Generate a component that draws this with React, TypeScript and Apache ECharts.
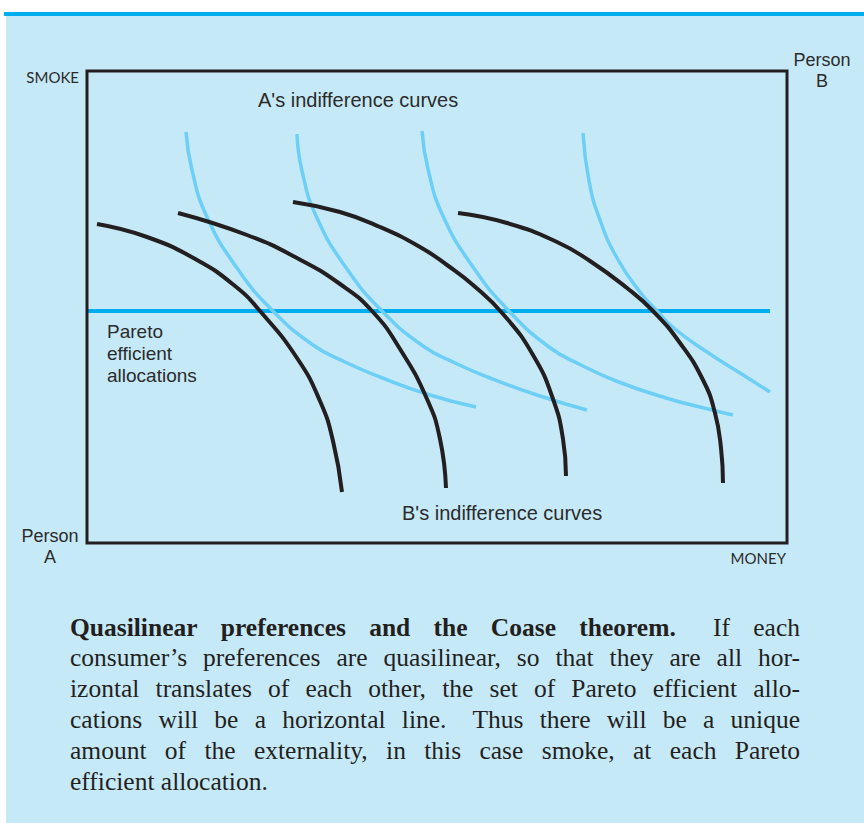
import React, { useEffect, useRef } from "react";
import * as echarts from "echarts";

// Axis extents (money across, smoke up), in the figure's own units
const moneyMax = 700;
const smokeMax = 472;

// A's indifference curves (light blue), [money, smoke]
const curveA1 = [[99, 411], [105, 373], [120, 326], [150, 275], [185, 233], [226, 198], [258, 181], [293, 166], [343, 148], [389, 136]];
const curveA2 = [[210, 409], [215, 372], [230, 325], [260, 274], [295, 232], [336, 197], [368, 180], [403, 165], [453, 147], [500, 133]];
const curveA3 = [[335, 412], [341, 374], [356, 327], [386, 276], [421, 233], [462, 196], [494, 178], [529, 162], [579, 145], [625, 133], [646, 128]];
const curveA4 = [[496, 410], [502, 362], [513, 323], [530, 285], [553, 251], [570, 232], [588, 214], [620, 191], [653, 170], [683, 151]];

// B's indifference curves (black)
const curveB1 = [[10, 319], [60, 306], [110, 283], [148, 257], [173, 232], [210, 185], [233, 142], [246, 102], [255, 51]];
const curveB2 = [[91, 330], [160, 308], [210, 285], [253, 259], [285, 232], [313, 194], [340, 144], [353, 104], [359, 55]];
const curveB3 = [[206, 341], [253, 331], [293, 316], [333, 296], [360, 278], [386, 258], [416, 229], [446, 188], [466, 144], [476, 104], [479, 67]];
const curveB4 = [[371, 330], [420, 320], [470, 301], [503, 282], [540, 255], [566, 232], [593, 200], [616, 163], [628, 130], [634, 95], [636, 60]];

// Pareto efficient allocations (horizontal line)
const paretoLine = [[0, 232], [683, 232]];

// Texts
const labelSmoke = "SMOKE";
const labelMoney = "MONEY";
const labelPersonB = "Person\nB";
const labelPersonA = "Person\nA";
const labelA = "A's indifference curves";
const labelB = "B's indifference curves";
const labelPareto = "Pareto\nefficient\nallocations";

type Word = { t: string; b?: boolean };
const plain = (s: string): Word[] => s.split(" ").map((t) => ({ t }));
const captionLines: { words: Word[]; justify: boolean }[] = [
  {
    words: [
      { t: "Quasilinear", b: true }, { t: "preferences", b: true }, { t: "and", b: true },
      { t: "the", b: true }, { t: "Coase", b: true }, { t: "theorem.", b: true },
      { t: "If" }, { t: "each" },
    ],
    justify: true,
  },
  { words: plain("consumer’s preferences are quasilinear, so that they are all hor-"), justify: true },
  { words: plain("izontal translates of each other, the set of Pareto efficient allo-"), justify: true },
  { words: plain("cations will be a horizontal line. Thus there will be a unique"), justify: true },
  { words: plain("amount of the externality, in this case smoke, at each Pareto"), justify: true },
  { words: plain("efficient allocation."), justify: false },
];

const BG = "#c6e9f8";
const BLUE_CURVE = "#6dcff6";
const PARETO = "#00aeef";
const INK = "#231f20";
const LABEL_INK = "#2b2b2b";
const SANS = "'Liberation Sans', Arial, sans-serif";
const SANS_SMALL = "Lato, 'Open Sans', sans-serif";
const SERIF = "'Liberation Serif', 'DejaVu Serif', serif";
const CAP_FS = 25.5;

function buildCaption(): any[] {
  const canvas = document.createElement("canvas");
  const ctx = canvas.getContext("2d")!;
  const measure = (t: string, b?: boolean) => {
    ctx.font = `${b ? "bold " : ""}${CAP_FS}px ${SERIF}`;
    return ctx.measureText(t).width;
  };
  const left = 70;
  const right = 800;
  const top = 627;
  const lineStep = 30.8;
  const out: any[] = [];
  captionLines.forEach((line, li) => {
    const widths = line.words.map((w) => measure(w.t, w.b));
    const sum = widths.reduce((a, b) => a + b, 0);
    // sentence-ending gaps get a little more room, as TeX does
    const weights = line.words.slice(0, -1).map((w) => (/[.]$/.test(w.t) ? 1.6 : 1));
    const wsum = weights.reduce((a, b) => a + b, 0);
    const unit = line.justify && wsum > 0 ? (right - left - sum) / wsum : measure(" ");
    let x = left;
    line.words.forEach((w, i) => {
      out.push({
        type: "text",
        x,
        y: top + li * lineStep,
        silent: true,
        style: {
          text: w.t,
          fontFamily: SERIF,
          fontSize: CAP_FS,
          fontWeight: w.b ? "bold" : "normal",
          fill: INK,
          textAlign: "left",
          textVerticalAlign: "middle",
          align: "left",
          verticalAlign: "middle",
        },
      });
      x += widths[i] + (i < weights.length ? unit * weights[i] : 0);
    });
  });
  return out;
}

function txt(text: string, x: number, y: number, size: number, align: string, family = SANS, lineHeight?: number) {
  return {
    type: "text",
    x,
    y,
    silent: true,
    style: {
      text,
      fontFamily: family,
      fontSize: size,
      lineHeight: lineHeight ?? Math.round(size * 1.2),
      fill: LABEL_INK,
      textAlign: align,
      textVerticalAlign: "middle",
      align,
      verticalAlign: "middle",
    },
  };
}

function lineSeries(data: number[][], color: string, width: number, z: number) {
  return {
    type: "line",
    data,
    smooth: 0.5,
    showSymbol: false,
    symbol: "none",
    silent: true,
    z,
    lineStyle: { color, width, cap: "butt" },
  };
}

export default function App() {
  const ref = useRef<HTMLDivElement>(null);
  useEffect(() => {
    const chart = echarts.init(ref.current!, null, { renderer: "svg" });
    chart.setOption({
      animation: false,
      backgroundColor: "#ffffff",
      grid: {
        left: 87,
        top: 71,
        width: 700,
        height: 472,
        show: true,
        borderColor: INK,
        borderWidth: 3,
        backgroundColor: "transparent",
        z: 3,
      },
      xAxis: { type: "value", min: 0, max: moneyMax, show: false },
      yAxis: { type: "value", min: 0, max: smokeMax, show: false },
      series: [
        lineSeries(paretoLine, PARETO, 4, 2),
        lineSeries(curveA1, BLUE_CURVE, 3.5, 3),
        lineSeries(curveA2, BLUE_CURVE, 3.5, 3),
        lineSeries(curveA3, BLUE_CURVE, 3.5, 3),
        lineSeries(curveA4, BLUE_CURVE, 3.5, 3),
        lineSeries(curveB1, INK, 4, 4),
        lineSeries(curveB2, INK, 4, 4),
        lineSeries(curveB3, INK, 4, 4),
        lineSeries(curveB4, INK, 4, 4),
      ],
      graphic: [
        { type: "rect", z: -10, silent: true, shape: { x: 6, y: 16, width: 858, height: 807 }, style: { fill: BG } },
        { type: "rect", z: -9, silent: true, shape: { x: 4, y: 12, width: 860, height: 4 }, style: { fill: PARETO } },
        txt(labelSmoke, 79, 77, 15, "right", SANS_SMALL),
        txt(labelMoney, 786, 558, 15, "right", SANS_SMALL),
        txt(labelPersonB, 822, 70, 18, "center", SANS, 21),
        txt(labelPersonA, 50, 546, 18, "center", SANS, 21),
        txt(labelA, 258, 100, 20, "left"),
        txt(labelB, 402, 513, 20, "left"),
        txt(labelPareto, 107, 353, 19, "left", SANS, 22),
        ...buildCaption(),
      ],
    });
    return () => chart.dispose();
  }, []);
  return <div ref={ref} style={{ position: "absolute", left: 0, top: 0, width: 864, height: 823 }} />;
}
